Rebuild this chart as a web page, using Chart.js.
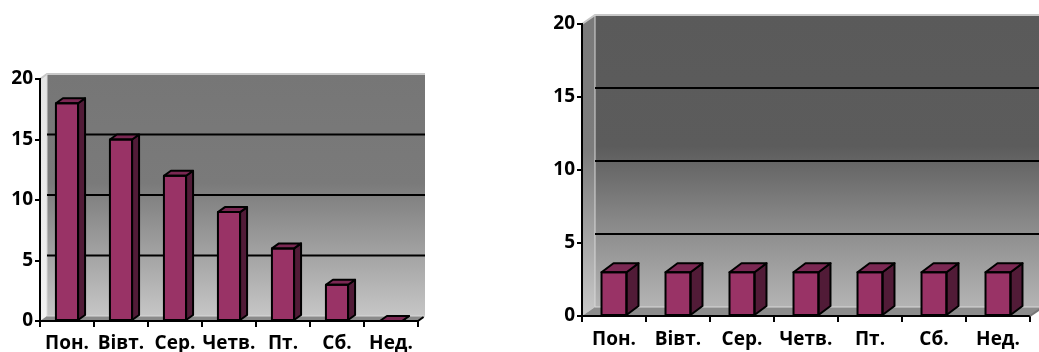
<!DOCTYPE html>
<html>
<head>
<meta charset="utf-8">
<script src="https://cdn.jsdelivr.net/npm/chart.js@4/dist/chart.umd.min.js"></script>
<style>
html,body{margin:0;padding:0;background:#fff;}
#wrap{position:relative;width:1039px;height:352px;overflow:hidden;}
.box{position:absolute;top:0;height:352px;}
</style>
</head>
<body>
<div id="wrap">
  <div class="box" style="left:0;width:440px;"><canvas id="c1"></canvas></div>
  <div class="box" style="left:540px;width:499px;"><canvas id="c2"></canvas></div>
</div>
<script>
const days = ['Пон.', 'Вівт.', 'Сер.', 'Четв.', 'Пт.', 'Сб.', 'Нед.'];
const leftValues = [18, 15, 12, 9, 6, 3, 0];
const rightValues = [3, 3, 3, 3, 3, 3, 3];
const yMax = 20;
const yStep = 5;
const gridValues = [5, 10, 15];

const FONT = {family: "'Open Sans', 'Noto Sans', sans-serif", size: 19, weight: 'bold'};

function wallPlugin(opt) {
  return {
    id: 'wall3d',
    beforeDraw(chart) {
      const ctx = chart.ctx;
      const a = chart.chartArea;
      const ys = chart.scales.y;
      const dx = opt.wallDx, dy = opt.wallDy;
      const top = ys.getPixelForValue(yMax), bot = ys.getPixelForValue(0);
      ctx.save();
      const g = ctx.createLinearGradient(0, top - dy, 0, bot - dy);
      opt.stops.forEach(s => g.addColorStop(s[0], s[1]));
      ctx.fillStyle = g;
      ctx.fillRect(a.left + dx, top - dy, a.right - a.left, bot - top);
      const g2 = ctx.createLinearGradient(0, top - dy, 0, bot);
      opt.sideStops.forEach(s => g2.addColorStop(s[0], s[1]));
      ctx.fillStyle = g2;
      ctx.beginPath();
      ctx.moveTo(a.left, top);
      ctx.lineTo(a.left + dx, top - dy);
      ctx.lineTo(a.left + dx, bot - dy);
      ctx.lineTo(a.left, bot);
      ctx.closePath();
      ctx.fill();
      ctx.fillStyle = opt.floor;
      ctx.beginPath();
      ctx.moveTo(a.left, bot);
      ctx.lineTo(a.left + dx, bot - dy);
      ctx.lineTo(a.right + dx, bot - dy);
      ctx.lineTo(a.right, bot);
      ctx.closePath();
      ctx.fill();
      ctx.strokeStyle = '#c8c8c8';
      ctx.lineWidth = 2;
      ctx.beginPath();
      ctx.moveTo(a.left, top);
      ctx.lineTo(a.left + dx, top - dy);
      ctx.lineTo(a.right + dx, top - dy);
      ctx.stroke();
      ctx.strokeStyle = '#d8d8d8';
      ctx.lineWidth = 1;
      ctx.beginPath();
      ctx.moveTo(a.left + dx, top - dy);
      ctx.lineTo(a.left + dx, bot - dy);
      ctx.lineTo(a.right + dx, bot - dy);
      ctx.stroke();
      ctx.strokeStyle = '#000';
      ctx.lineWidth = 2;
      gridValues.forEach(v => {
        const y = ys.getPixelForValue(v) - dy;
        ctx.beginPath();
        ctx.moveTo(a.left + dx, y);
        ctx.lineTo(a.right + dx, y);
        ctx.stroke();
      });
      ctx.restore();
    },
    afterDraw(chart) {
      const ctx = chart.ctx;
      const a = chart.chartArea;
      const ys = chart.scales.y;
      const bot = ys.getPixelForValue(0);
      ctx.save();
      ctx.strokeStyle = opt.endColor;
      ctx.lineWidth = 2;
      ctx.beginPath();
      ctx.moveTo(a.right, bot);
      ctx.lineTo(a.right + opt.wallDx * 0.8, bot - opt.wallDy * 0.8);
      ctx.stroke();
      ctx.restore();
    },
    afterDatasetsDraw(chart) {
      const ctx = chart.ctx;
      const meta = chart.getDatasetMeta(0);
      const dx = opt.barDx, dy = opt.barDy;
      ctx.save();
      ctx.lineWidth = 2;
      ctx.lineJoin = 'round';
      ctx.strokeStyle = '#000';
      meta.data.forEach(el => {
        const p = el.getProps(['x', 'y', 'base', 'width'], true);
        const l = p.x - p.width / 2, r = p.x + p.width / 2;
        const t = Math.min(p.y, p.base), b = p.base;
        ctx.fillStyle = '#511b37';
        ctx.beginPath();
        ctx.moveTo(r, t);
        ctx.lineTo(r + dx, t - dy);
        ctx.lineTo(r + dx, b - dy);
        ctx.lineTo(r, b);
        ctx.closePath();
        ctx.fill();
        ctx.stroke();
        ctx.fillStyle = '#7b2853';
        ctx.beginPath();
        ctx.moveTo(l, t);
        ctx.lineTo(l + dx, t - dy);
        ctx.lineTo(r + dx, t - dy);
        ctx.lineTo(r, t);
        ctx.closePath();
        ctx.fill();
        ctx.stroke();
        if (b - t > 0.5) {
          ctx.strokeRect(l, t, r - l, b - t);
        }
      });
      ctx.restore();
    }
  };
}

function makeChart(id, values, o) {
  return new Chart(document.getElementById(id), {
    type: 'bar',
    data: {
      labels: days,
      datasets: [{
        data: values,
        backgroundColor: '#993366',
        borderColor: '#000',
        borderWidth: 0,
        barPercentage: o.barPct,
        categoryPercentage: 1
      }]
    },
    options: {
      responsive: true,
      maintainAspectRatio: false,
      animation: false,
      events: [],
      layout: {padding: {top: o.padTop, right: o.padRight, left: 0, bottom: 0}},
      plugins: {legend: {display: false}, tooltip: {enabled: false}},
      scales: {
        x: {
          grid: {display: true, drawOnChartArea: false, drawTicks: true, tickLength: 6, color: '#000', lineWidth: 2, offset: true},
          border: {display: true, color: '#000', width: 2},
          ticks: {color: '#000', font: FONT, padding: o.xPad, maxRotation: 0, autoSkip: false},
          afterFit: s => { s.height = o.xH; }
        },
        y: {
          min: 0, max: yMax,
          grid: {display: true, drawOnChartArea: false, drawTicks: true, tickLength: 5, color: '#000', lineWidth: 2},
          border: {display: true, color: '#000', width: 2},
          ticks: {stepSize: yStep, color: '#000', font: FONT, padding: 2},
          afterFit: s => { s.width = o.yW; }
        }
      }
    },
    plugins: [wallPlugin(o)]
  });
}

makeChart('c1', leftValues, {
  barPct: 0.41, padTop: 79, padRight: 22, xH: 31, yW: 40, xPad: 5,
  wallDx: 7, wallDy: 5, barDx: 7, barDy: 5,
  stops: [[0, '#767676'], [0.45, '#7a7a7a'], [1, '#c6c6c6']],
  sideStops: [[0, '#e4e4e4'], [1, '#f2f2f2']],
  floor: '#8a8a8a', endColor: '#000'
});
makeChart('c2', rightValues, {
  barPct: 0.39, padTop: 24, padRight: 9, xH: 36, yW: 42, xPad: 6,
  wallDx: 13, wallDy: 9, barDx: 12, barDy: 9,
  stops: [[0, '#5a5a5a'], [0.45, '#5c5c5c'], [0.72, '#8a8a8a'], [1, '#b4b4b4']],
  sideStops: [[0, '#7a7a7a'], [0.45, '#7c7c7c'], [1, '#c8c8c8']],
  floor: '#8c8c8c', endColor: '#777'
});
</script>
</body>
</html>
